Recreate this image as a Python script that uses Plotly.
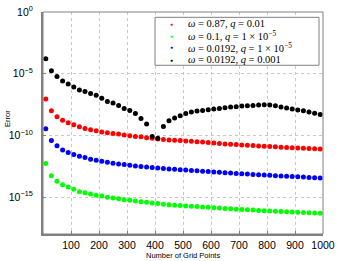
import plotly.graph_objects as go

# Grid sizes (number of grid points)
n_points = list(range(10, 1000, 20))

# log10 of error
log_err_red = [-7.06, -8.0, -8.5, -8.77, -8.98, -9.15, -9.31, -9.45, -9.55, -9.63,
               -9.72, -9.8, -9.85, -9.9, -9.98, -10.04, -10.1, -10.12, -10.2, -10.24,
               -10.29, -10.34, -10.37, -10.39, -10.42, -10.45, -10.48, -10.52, -10.55, -10.58,
               -10.62, -10.66, -10.70, -10.73, -10.75, -10.78, -10.80, -10.83, -10.86, -10.88,
               -10.91, -10.93, -10.96, -10.98, -11.0, -11.02, -11.04, -11.06, -11.08, -11.1]
log_err_green = [-12.29, -13.27, -13.72, -14.0, -14.19, -14.37, -14.57, -14.65, -14.76, -14.86,
                 -14.92, -15.02, -15.08, -15.14, -15.22, -15.27, -15.33, -15.38, -15.43, -15.48,
                 -15.53, -15.58, -15.63, -15.66, -15.69, -15.72, -15.75, -15.78, -15.81, -15.84,
                 -15.87, -15.9, -15.93, -15.96, -15.99, -16.01, -16.04, -16.06, -16.09, -16.11,
                 -16.13, -16.15, -16.17, -16.19, -16.21, -16.23, -16.25, -16.27, -16.29, -16.31]
log_err_blue = [-9.47, -10.42, -10.85, -11.18, -11.4, -11.56, -11.69, -11.8, -11.93, -12.02,
                -12.1, -12.18, -12.26, -12.32, -12.37, -12.42, -12.48, -12.53, -12.57, -12.61,
                -12.65, -12.69, -12.73, -12.76, -12.79, -12.82, -12.85, -12.88, -12.91, -12.94,
                -12.97, -13.0, -13.03, -13.06, -13.09, -13.11, -13.14, -13.17, -13.19, -13.22,
                -13.24, -13.27, -13.29, -13.31, -13.34, -13.36, -13.38, -13.41, -13.43, -13.46]
log_err_black = [-3.80, -4.76, -5.22, -5.59, -5.84, -6.08, -6.33, -6.44, -6.6, -6.76,
                 -7.0, -7.25, -7.38, -7.58, -7.82, -7.98, -8.22, -8.63, -9.09, -10.1,
                 -10.23, -9.28, -8.82, -8.6, -8.41, -8.23, -8.11, -8.03, -7.98, -7.93,
                 -7.87, -7.82, -7.76, -7.70, -7.68, -7.63, -7.6, -7.58, -7.55, -7.52,
                 -7.55, -7.6, -7.71, -7.79, -7.87, -7.95, -8.0, -8.11, -8.2, -8.31]

series_logs = [log_err_red, log_err_green, log_err_blue, log_err_black]
series_colors = ["#ff0000", "#00ff00", "#0000ff", "#000000"]
series_labels = [
    "<i>ω</i> = 0.87, <i>q</i> = 0.01",
    "<i>ω</i> = 0.1, <i>q</i> = 1 × 10<sup>−5</sup>",
    "<i>ω</i> = 0.0192, <i>q</i> = 1 × 10<sup>−5</sup>",
    "<i>ω</i> = 0.0192, <i>q</i> = 0.001",
]

x_ticks = [100, 200, 300, 400, 500, 600, 700, 800, 900, 1000]
y_ticks = [1, 1e-5, 1e-10, 1e-15]
y_ticktext = ["10<sup>0</sup>", "10<sup>−5</sup>", "10<sup>−10</sup>", "10<sup>−15</sup>"]

fig = go.Figure()
for logs, col, lab in zip(series_logs, series_colors, series_labels):
    fig.add_trace(go.Scatter(
        x=n_points, y=[10 ** v for v in logs], mode="markers", name=lab,
        marker=dict(color=col, size=5, line=dict(width=0)), showlegend=False))

axis_font = dict(family="Liberation Sans, Arial, sans-serif", size=10.5, color="black")
fig.update_layout(
    width=339, height=261,
    margin=dict(l=43, r=16, t=12, b=27),
    paper_bgcolor="white", plot_bgcolor="white",
    xaxis=dict(range=[0, 1000], tickvals=x_ticks, ticks="inside", ticklen=3,
               tickcolor="#808080", showline=True, linecolor="#808080", linewidth=2,
               showgrid=True, gridcolor="#c8c8c8", griddash="dot", gridwidth=1,
               zeroline=False, tickfont=axis_font, automargin=False),
    yaxis=dict(type="log", range=[-18, 0], tickvals=y_ticks, ticktext=y_ticktext,
               ticks="inside", ticklen=3, tickcolor="#808080", showline=True,
               linecolor="#808080", linewidth=2, showgrid=True, gridcolor="#c8c8c8",
               griddash="dot", gridwidth=1, zeroline=False, tickfont=axis_font,
               ticklabelstandoff=6, automargin=False),
)

# plot frame (top/right)
fig.add_shape(type="rect", xref="paper", yref="paper", x0=0, x1=1, y0=0, y1=1,
              line=dict(color="#808080", width=1), layer="above")

# axis titles
fig.add_annotation(text="Number of Grid Points", xref="paper", yref="paper", x=0.5, y=0,
                   yshift=-21, showarrow=False, yanchor="middle",
                   font=dict(family="Liberation Sans, Arial, sans-serif", size=7.5, color="black"))
fig.add_annotation(text="Error", xref="paper", yref="paper", x=0, y=0.518, xshift=-36,
                   showarrow=False, textangle=-90, xanchor="center",
                   font=dict(family="Liberation Sans, Arial, sans-serif", size=7.5, color="black"))

# legend box
fig.add_shape(type="rect", xref="paper", yref="paper", x0=0.4, x1=0.9857, y0=0.76, y1=0.976,
              line=dict(color="#808080", width=1), fillcolor="white", layer="above")
row_y = [0.946, 0.892, 0.841, 0.785]
for yy, col, lab in zip(row_y, series_colors, series_labels):
    fig.add_annotation(text="●", xref="paper", yref="paper", x=0.4607, y=yy,
                       showarrow=False, xanchor="center", yanchor="middle",
                       font=dict(size=5, color=col))
    fig.add_annotation(text=lab, xref="paper", yref="paper", x=0.5107, y=yy,
                       showarrow=False, xanchor="left", yanchor="middle",
                       font=dict(family="Liberation Serif, DejaVu Serif, serif", size=10.5, color="black"))

fig.write_html("out.html", config={"displayModeBar": False},
               post_script="document.body.style.margin='0px';")
